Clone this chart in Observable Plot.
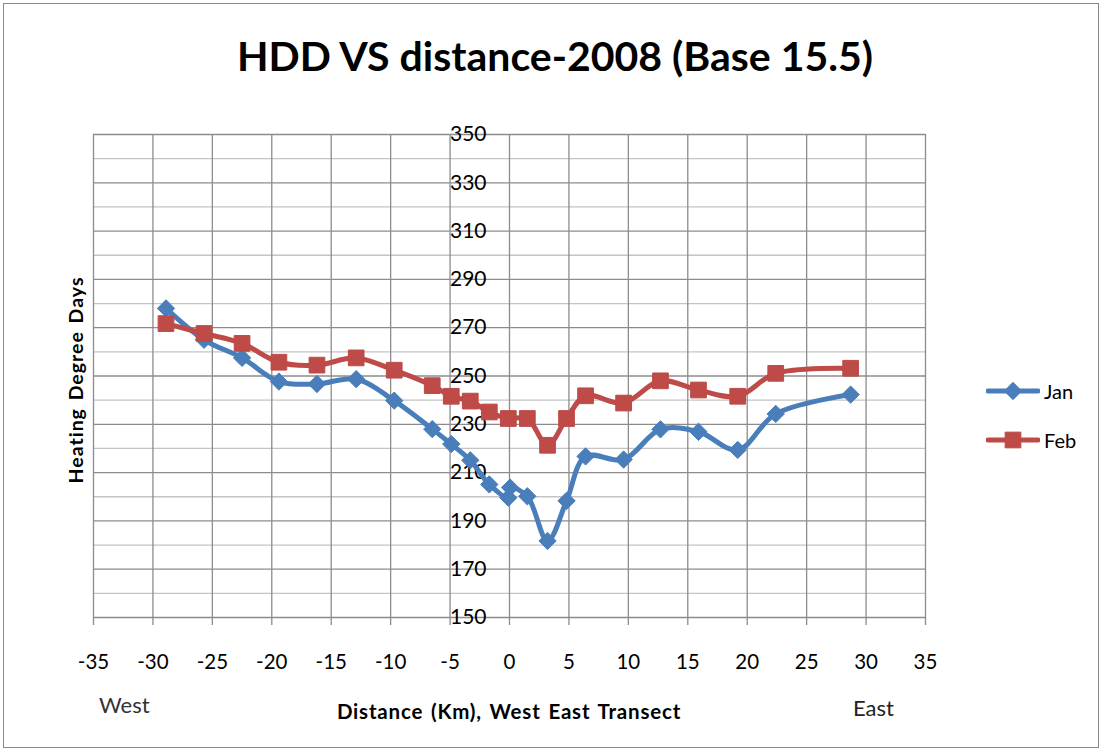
<!DOCTYPE html>
<html>
<head>
<meta charset="utf-8">
<script src="https://cdn.jsdelivr.net/npm/d3@7"></script>
<script src="https://cdn.jsdelivr.net/npm/@observablehq/plot@0.6"></script>
<style>
  html, body { margin: 0; padding: 0; background: #fff; }
  #chart { position: relative; width: 1104px; height: 753px; font-family: Lato, "Open Sans", sans-serif; color: #000; overflow: hidden; }
  #frame { position: absolute; left: 3px; top: 3px; width: 1096px; height: 745px; border: 1px solid #8a8a8a; box-sizing: border-box; pointer-events: none; }
  #title { position: absolute; left: 0; width: 1110px; top: 55px; transform: translateY(-50%); text-align: center; font-size: 41px; font-weight: bold; }
  #ylabel { position: absolute; left: 75px; top: 380px; transform: translate(-50%, -50%) rotate(-90deg); font-size: 19.5px; font-weight: bold; letter-spacing: 1px; word-spacing: 2px; white-space: nowrap; }
  #xlabel { position: absolute; left: 509px; top: 711px; transform: translate(-50%, -50%); font-size: 20.5px; font-weight: bold; letter-spacing: 0.8px; word-spacing: 2px; white-space: nowrap; }
  #west { position: absolute; left: 99px; top: 704px; transform: translateY(-50%); font-size: 22px; color: #333; }
  #east { position: absolute; left: 853px; top: 707px; transform: translateY(-50%); font-size: 22px; color: #222; }
  #legend { position: absolute; left: 986px; top: 366px; font-size: 20px; }
  #legend .row { display: flex; align-items: center; height: 49px; }
  #legend svg { margin-right: 4px; }
  #plot { position: absolute; left: 0; top: 0; }
</style>
</head>
<body>
<div id="chart">
  <div id="plot"></div>
  <div id="title">HDD VS distance-2008 (Base 15.5)</div>
  <div id="ylabel">Heating Degree Days</div>
  <div id="xlabel">Distance (Km), West East Transect</div>
  <div id="west">West</div>
  <div id="east">East</div>
  <div id="legend"></div>
  <div id="frame"></div>
</div>
<script>
// ---- data ----
const janX = [-28.9, -25.7, -22.5, -19.4, -16.2, -12.9, -9.7, -6.5, -4.9, -3.3, -1.7, -0.1, 0.05, 1.5, 3.2, 4.8, 6.4, 9.6, 12.7, 15.9, 19.2, 22.4, 28.7];
const janY = [278, 265, 257.5, 247.7, 246.7, 248.7, 239.8, 228, 221.8, 215.1, 205.1, 199.6, 203.8, 200.2, 181.7, 198.3, 216.7, 215.4, 227.9, 226.9, 219.4, 234.3, 242.3];
const febX = [-28.9, -25.7, -22.5, -19.4, -16.2, -12.9, -9.7, -6.5, -4.9, -3.3, -1.7, -0.1, 1.5, 3.2, 4.8, 6.4, 9.6, 12.7, 15.9, 19.2, 22.4, 28.7];
const febY = [271.7, 267.6, 263.5, 255.7, 254.5, 257.5, 252.4, 246, 241.6, 239.6, 235.1, 232.4, 232.4, 221.3, 232.4, 241.8, 238.8, 248, 244.2, 241.6, 251.1, 253.2];
const seriesNames = ["Jan", "Feb"];
const seriesColors = ["#4a7ebb", "#be4b48"];
const seriesSymbols = ["diamond2", "square2"];
const xTicks = d3.range(-35, 36, 5);
const yMajor = d3.range(150, 351, 20);
const yMinor = d3.range(160, 341, 20);

const jan = janX.map((x, i) => ({x, y: janY[i], s: "Jan"}));
const feb = febX.map((x, i) => ({x, y: febY[i], s: "Feb"}));

const plot = Plot.plot({
  width: 1104,
  height: 753,
  marginLeft: 93,
  marginRight: 179,
  marginTop: 134,
  marginBottom: 136,
  style: {fontFamily: "Lato, 'Open Sans', sans-serif", background: "transparent"},
  x: {domain: [-35, 35]},
  y: {domain: [150, 350], axis: null},
  marks: [
    Plot.ruleY(yMinor, {y: d => d, stroke: "#c4c4c4", strokeWidth: 1.3}),
    Plot.ruleY(yMajor, {y: d => d, stroke: "#8c8c8c", strokeWidth: 1.3}),
    Plot.ruleX(xTicks, {x: d => d, stroke: "#8c8c8c", strokeWidth: 1.3, insetBottom: -8}),
    Plot.axisX({ticks: xTicks, tickSize: 0, tickPadding: 37, fontSize: 20.5, label: null, tickFormat: d => String(d).replace("\u2212", "-")}),
    Plot.text(yMajor, {x: 0, y: d => d, text: d => String(d), dx: -23, textAnchor: "end", fontSize: 21, fill: "#000"}),
    Plot.line(jan, {x: "x", y: "y", stroke: seriesColors[0], strokeWidth: 5, curve: "catmull-rom"}),
    Plot.dot(jan, {x: "x", y: "y", symbol: seriesSymbols[0], r: 7.8, fill: seriesColors[0], stroke: seriesColors[0], strokeWidth: 1}),
    Plot.line(feb, {x: "x", y: "y", stroke: seriesColors[1], strokeWidth: 5, curve: "catmull-rom"}),
    Plot.dot(feb, {x: "x", y: "y", symbol: seriesSymbols[1], r: 10, fill: seriesColors[1], stroke: seriesColors[1], strokeWidth: 1})
  ]
});
document.getElementById("plot").appendChild(plot);

// legend
const legend = d3.select("#legend");
seriesNames.forEach((name, i) => {
  const row = legend.append("div").attr("class", "row");
  const svg = row.append("svg").attr("width", 54).attr("height", 24);
  svg.append("line").attr("x1", 2).attr("x2", 52).attr("y1", 12).attr("y2", 12)
    .attr("stroke", seriesColors[i]).attr("stroke-width", 5).attr("stroke-linecap", "round");
  const sym = i === 0 ? d3.symbolDiamond2 : d3.symbolSquare2;
  const size = i === 0 ? Math.PI * 7.8 * 7.8 : Math.PI * 10 * 10;
  svg.append("path").attr("d", d3.symbol(sym, size)()).attr("transform", "translate(27,12)")
    .attr("fill", seriesColors[i]).attr("stroke", seriesColors[i]);
  row.append("span").text(name);
});
</script>
</body>
</html>
